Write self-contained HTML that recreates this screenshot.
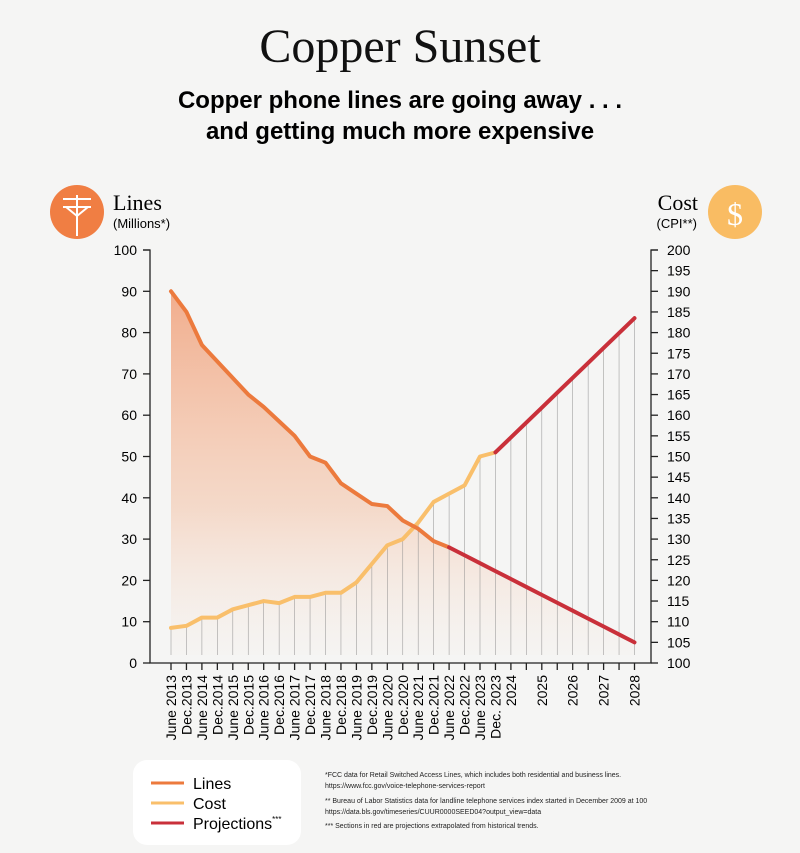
<!DOCTYPE html>
<html><head><meta charset="utf-8">
<style>
body{margin:0;background:#f5f5f4;width:800px;height:853px;overflow:hidden;font-family:"Liberation Sans",sans-serif;color:#111}
</style></head><body>
<svg id="s" width="800" height="853" xmlns="http://www.w3.org/2000/svg" style="position:absolute;left:0;top:0">
<defs>
<linearGradient id="g" x1="0" y1="0" x2="0" y2="1">
<stop offset="0" stop-color="#f0956a" stop-opacity="0.75"/>
<stop offset="0.6" stop-color="#f4b896" stop-opacity="0.45"/>
<stop offset="1" stop-color="#f8dccb" stop-opacity="0.05"/>
</linearGradient>
</defs>
<text x="400" y="62" text-anchor="middle" font-family="Liberation Serif,serif" font-size="48" fill="#111">Copper Sunset</text>
<text x="400" y="108" text-anchor="middle" font-size="24" font-weight="bold">Copper phone lines are going away . . .</text>
<text x="400" y="139" text-anchor="middle" font-size="24" font-weight="bold">and getting much more expensive</text>
<circle cx="77" cy="212" r="27" fill="#f07e43"/>
<g stroke="#fff" stroke-width="2" fill="none"><line x1="77" y1="195" x2="77" y2="236"/><line x1="63" y1="199" x2="91" y2="199"/><line x1="63" y1="207" x2="91" y2="207"/><path d="M66 207 L77 216 L88 207"/></g>
<text x="113" y="210" font-family="Liberation Serif,serif" font-size="22">Lines</text>
<text x="113" y="228" font-size="13">(Millions*)</text>
<circle cx="735" cy="212" r="27" fill="#f9bc63"/>
<text x="735" y="225" text-anchor="middle" font-family="Liberation Serif,serif" font-size="32" fill="#fff">$</text>
<text x="698" y="210" text-anchor="end" font-family="Liberation Serif,serif" font-size="22">Cost</text>
<text x="697" y="228" text-anchor="end" font-size="13">(CPI**)</text>
<rect x="133" y="760" width="168" height="85" rx="14" fill="#fff"/>
<g stroke-width="3"><line x1="151" y1="783" x2="184" y2="783" stroke="#ec7a3d"/><line x1="151" y1="803" x2="184" y2="803" stroke="#f9bf6b"/><line x1="151" y1="823" x2="184" y2="823" stroke="#c9303a"/></g>
<g font-size="16"><text x="193" y="789">Lines</text><text x="193" y="809">Cost</text><text x="193" y="829">Projections<tspan font-size="8" dy="-7">***</tspan></text></g>
<g font-size="7" fill="#222"><text x="325" y="777">*FCC data for Retail Switched Access Lines, which includes both residential and business lines.</text>
<text x="325" y="788">https://www.fcc.gov/voice-telephone-services-report</text>
<text x="325" y="803">** Bureau of Labor Statistics data for landline telephone services index started in December 2009 at 100</text>
<text x="325" y="814">https://data.bls.gov/timeseries/CUUR0000SEED04?output_view=data</text>
<text x="325" y="828">*** Sections in red are projections extrapolated from historical trends.</text></g>
<g id="c"></g>
</svg>
<script>
var ns="http://www.w3.org/2000/svg",c=document.getElementById("c");
function el(t,a,txt){var e=document.createElementNS(ns,t);for(var k in a)e.setAttribute(k,a[k]);if(txt!=null)e.textContent=txt;c.appendChild(e);return e;}
var X=function(i){return 171+i*15.45},YL=function(v){return 663-v*4.13},YR=function(v){return 663-(v-100)*4.13};
var lines=[90,85,77,73,69,65,62,58.5,55,50,48.5,43.5,41,38.5,38,34.5,32.5,29.5,28];
var cost=[108.5,109,111,111,113,114,115,114.5,116,116,117,117,119.5,124,128.5,130,134,139,141,143,150,151];
var lp=[];for(var i=18;i<=30;i++)lp.push([X(i),YL(28+(5-28)*(i-18)/12)]);
var cp=[];for(var i=21;i<=30;i++)cp.push([X(i),YR(151+(183.5-151)*(i-21)/9)]);
var d="M"+X(0)+" "+YL(lines[0]);lines.forEach(function(v,i){d+=" L"+X(i)+" "+YL(v)});lp.forEach(function(p){d+=" L"+p[0]+" "+p[1]});d+=" L"+X(30)+" 655 L"+X(0)+" 655 Z";
el("path",{d:d,fill:"url(#g)"});
for(var i=0;i<=30;i++){var y=i<22?YR(cost[i]):cp[i-21][1];el("line",{x1:X(i),y1:y,x2:X(i),y2:655,stroke:"#8a8a8a","stroke-width":0.6,opacity:0.8});}
function pl(pts,col){el("polyline",{points:pts.map(function(p){return p.join(",")}).join(" "),fill:"none",stroke:col,"stroke-width":4,"stroke-linejoin":"round","stroke-linecap":"round"});}
pl(cost.map(function(v,i){return[X(i),YR(v)]}),"#f9bf6b");
pl(lines.map(function(v,i){return[X(i),YL(v)]}),"#ec7a3d");
pl(lp,"#c9303a");pl(cp,"#c9303a");
el("path",{d:"M143 250 L150 250 L150 663 L651 663 L651 250 L658 250",fill:"none",stroke:"#222","stroke-width":1.3});
for(var v=0;v<=100;v+=10){el("line",{x1:143,y1:YL(v),x2:150,y2:YL(v),stroke:"#222","stroke-width":1.3});el("text",{x:137,y:YL(v)+5,"text-anchor":"end","font-size":14},v);}
for(var v=100;v<=200;v+=5){el("line",{x1:651,y1:YR(v),x2:658,y2:YR(v),stroke:"#222","stroke-width":1.3});el("text",{x:667,y:YR(v)+5,"font-size":14},v);}
var labs=[];for(var y=2013;y<=2023;y++){labs.push("June "+y);labs.push(y<2023?"Dec."+y:"Dec. "+y);}
labs.push("2024");labs.push("");labs.push("2025");labs.push("");labs.push("2026");labs.push("");labs.push("2027");labs.push("");labs.push("2028");
for(var i=0;i<=30;i++){el("line",{x1:X(i),y1:663,x2:X(i),y2:670,stroke:"#222","stroke-width":1.3});
if(labs[i]){el("text",{x:0,y:0,"text-anchor":"end","font-size":14,transform:"translate("+(X(i)+5)+",675) rotate(-90)"},labs[i]);}}
</script>
</body></html>
